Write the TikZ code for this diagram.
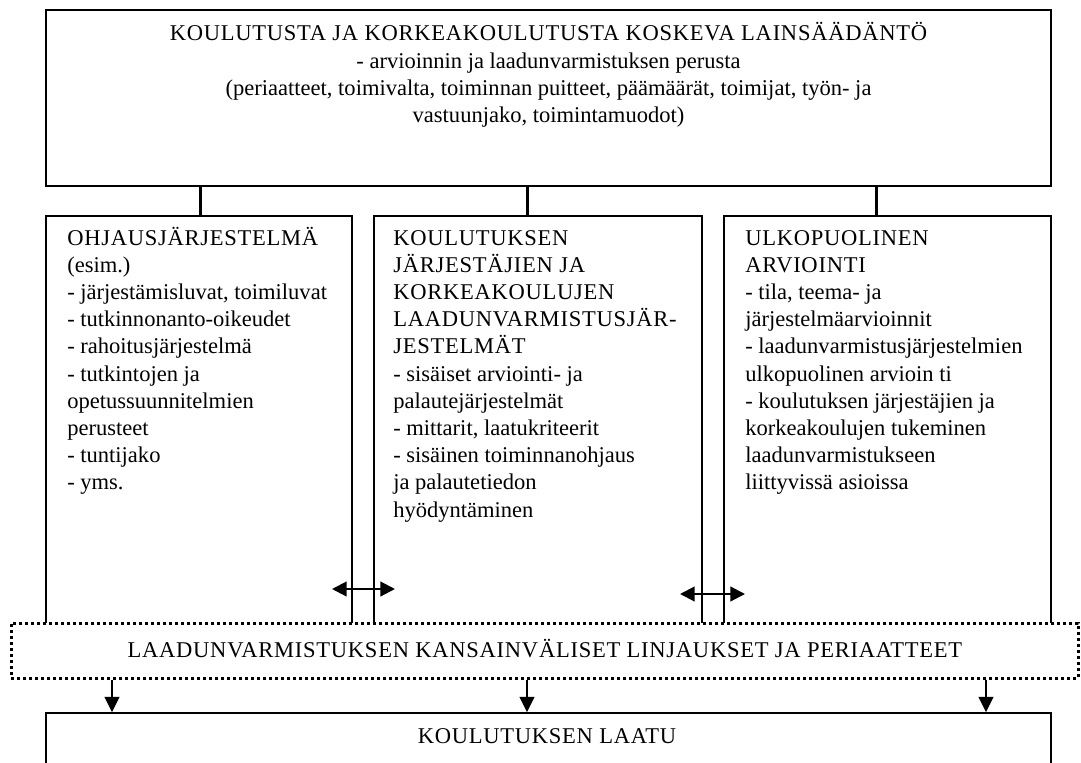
\documentclass[tikz,border=0pt]{standalone}
\usepackage{fontspec}
\setmainfont{Liberation Serif}
\newfontfamily\capsfont[LetterSpace=3.3]{Liberation Serif}
\usetikzlibrary{arrows.meta,fit,calc}
\tikzset{
  frame/.style={draw=black, line width=1.2pt, inner sep=0pt, fill=white},
  link/.style={draw=black, line width=2.25pt},
  dbl/.style={line width=1.6pt, {Triangle[length=11pt,width=11pt]}-{Triangle[length=11pt,width=11pt]}},
  down/.style={line width=1.6pt, -{Triangle[length=11.5pt,width=11pt]}},
  dotbox/.style={draw=black, line width=2.25pt, dash pattern=on 2.25pt off 2.25pt, fill=white, inner sep=0pt},
  txt/.style={inner sep=0pt, font=\fontsize{16.9pt}{20.4pt}\selectfont},
}
\begin{document}
\begin{tikzpicture}[x=0.75pt,y=-0.75pt]
\useasboundingbox (0,0) rectangle (1081,763);
\clip (0,0) rectangle (1081,763);
\fill[white] (0,0) rectangle (1081,763);
% boxes
\node[frame, fit={(46,10) (1051,186)}] (top) {};
\node[frame, fit={(46,216) (352,645)}] (colL) {};
\node[frame, fit={(374,216) (702,645)}] (colM) {};
\node[frame, fit={(724,216) (1051,645)}] (colR) {};
\node[dotbox, fit={(11,623) (1078,678)}] (intl) {};
\node[frame, fit={(46,713) (1051,800)}] (qual) {};
% texts
\node[txt, anchor=base] (topT) at (548.5,41) {\parbox[t]{700pt}{\centering
{\capsfont KOULUTUSTA JA KORKEAKOULUTUSTA KOSKEVA LAINSÄÄDÄNTÖ}\\
- arvioinnin ja laadunvarmistuksen perusta\\
(periaatteet, toimivalta, toiminnan puitteet, päämäärät, toimijat, työn- ja\\
vastuunjako, toimintamuodot)}};
\node[txt, anchor=base west] (tL) at (67,245) {\parbox[t]{300pt}{\raggedright
{\capsfont OHJAUSJÄRJESTELMÄ}\\
(esim.)\\
- järjestämisluvat, toimiluvat\\
- tutkinnonanto-oikeudet\\
- rahoitusjärjestelmä\\
- tutkintojen ja\\
opetussuunnitelmien\\
perusteet\\
- tuntijako\\
- yms.}};
\node[txt, anchor=base west] (tM) at (393,245) {\parbox[t]{300pt}{\raggedright
{\capsfont KOULUTUKSEN}\\
{\capsfont JÄRJESTÄJIEN JA}\\
{\capsfont KORKEAKOULUJEN}\\
{\capsfont LAADUNVARMISTUSJÄR-}\\
{\capsfont JESTELMÄT}\\
- sisäiset arviointi- ja\\
palautejärjestelmät\\
- mittarit, laatukriteerit\\
- sisäinen toiminnanohjaus\\
ja palautetiedon\\
hyödyntäminen}};
\node[txt, anchor=base west] (tR) at (745,245) {\parbox[t]{300pt}{\raggedright
{\capsfont ULKOPUOLINEN}\\
{\capsfont ARVIOINTI}\\
- tila, teema- ja\\
järjestelmäarvioinnit\\
- laadunvarmistusjärjestelmien\\
ulkopuolinen arvioin ti\\
- koulutuksen järjestäjien ja\\
korkeakoulujen tukeminen\\
laadunvarmistukseen\\
liittyvissä asioissa}};
\node[txt, anchor=base] (tI) at (545,657) {\capsfont LAADUNVARMISTUKSEN KANSAINVÄLISET LINJAUKSET JA PERIAATTEET};
\node[txt, anchor=base] (tQ) at (547,743) {\capsfont KOULUTUKSEN LAATU};
% connectors top -> columns
\coordinate (cx1) at (200,0);
\coordinate (cx2) at (527,0);
\coordinate (cx3) at (876,0);
\draw[link] (top.south -| cx1) -- (colL.north -| cx1);
\draw[link] (top.south -| cx2) -- (colM.north -| cx2);
\draw[link] (top.south -| cx3) -- (colR.north -| cx3);
% double arrows between columns
\coordinate (a1) at (332,589);
\coordinate (a2) at (395,589);
\coordinate (b1) at (680,594);
\coordinate (b2) at (745,594);
\draw[dbl] (a1) -- (a2);
\draw[dbl] (b1) -- (b2);
% down arrows
\coordinate (dx1) at (112,0);
\coordinate (dx2) at (527,0);
\coordinate (dx3) at (986,0);
\draw[down] (intl.south -| dx1) -- (qual.north -| dx1);
\draw[down] (intl.south -| dx2) -- (qual.north -| dx2);
\draw[down] (intl.south -| dx3) -- (qual.north -| dx3);
\end{tikzpicture}
\end{document}
